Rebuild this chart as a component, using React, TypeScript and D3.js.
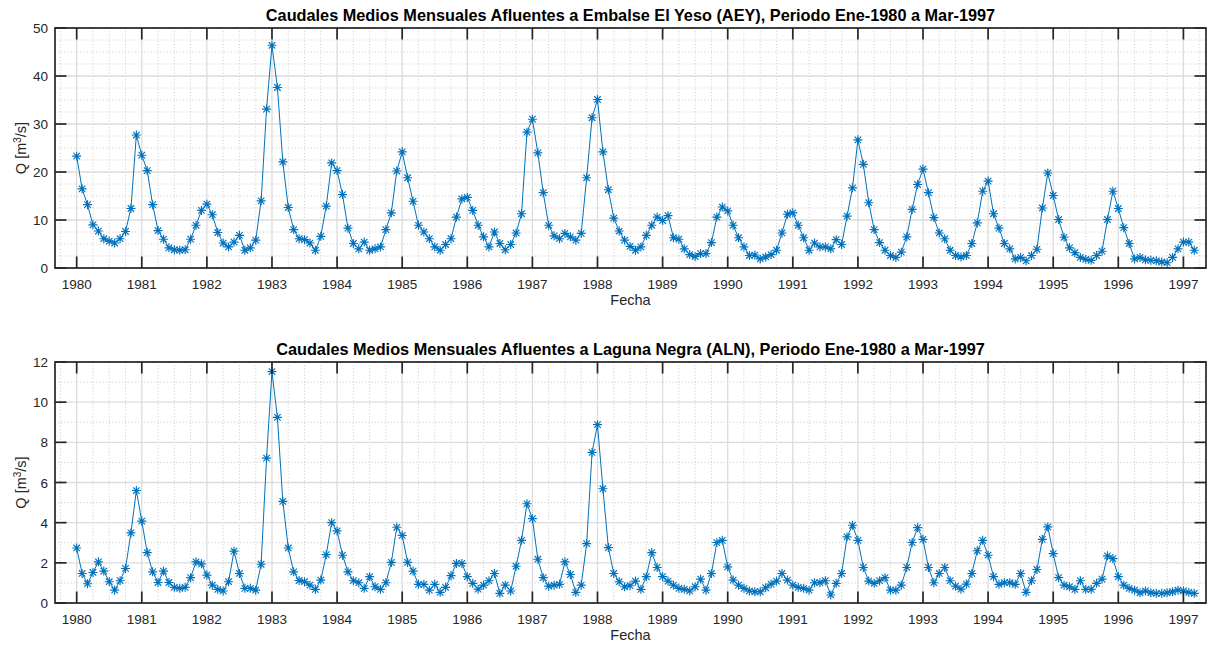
import React from "react";
import * as d3 from "d3";

// ---------- DATA ----------
const START_YEAR = 1980; // first month: Jan-1980, monthly steps
const YEAR_TICKS = [1980, 1981, 1982, 1983, 1984, 1985, 1986, 1987, 1988, 1989, 1990, 1991, 1992, 1993, 1994, 1995, 1996, 1997];
const AEY_TICKS = [0, 10, 20, 30, 40, 50];
const ALN_TICKS = [0, 2, 4, 6, 8, 10, 12];

const AEY = [
  23.3, 16.5, 13.2, 9.0, 7.7, 6.1, 5.6, 5.2, 6.1, 7.6, 12.4, 27.7,
  23.5, 20.3, 13.2, 7.8, 6.0, 4.2, 3.8, 3.7, 3.8, 6.0, 8.9, 12.0,
  13.3, 11.1, 7.4, 5.2, 4.4, 5.4, 6.8, 3.7, 4.2, 5.8, 14.0, 33.1,
  46.4, 37.6, 22.1, 12.6, 8.0, 6.1, 5.9, 5.2, 3.7, 6.6, 12.9, 21.9,
  20.3, 15.3, 8.3, 5.1, 4.0, 5.4, 3.7, 4.0, 4.4, 8.0, 11.5, 20.2,
  24.2, 18.8, 13.9, 8.9, 7.5, 6.1, 4.4, 3.7, 4.9, 6.1, 10.6, 14.4,
  14.7, 12.0, 8.9, 6.5, 4.4, 7.5, 5.1, 3.8, 4.9, 7.3, 11.3, 28.3,
  31.0, 24.0, 15.7, 8.9, 6.7, 6.1, 7.2, 6.5, 5.8, 7.2, 18.8, 31.3,
  35.1, 24.2, 16.3, 10.4, 7.7, 5.8, 4.5, 3.7, 4.4, 6.8, 8.9, 10.6,
  9.9, 10.9, 6.3, 6.0, 4.0, 2.8, 2.4, 3.0, 3.0, 5.3, 10.6, 12.7,
  11.9, 8.9, 6.3, 4.4, 2.6, 2.7, 1.9, 2.3, 2.8, 3.7, 7.3, 11.2,
  11.5, 8.9, 6.3, 3.7, 5.2, 4.4, 4.4, 4.0, 5.9, 4.9, 10.8, 16.7,
  26.7, 21.6, 13.6, 8.0, 5.3, 3.7, 2.6, 2.2, 3.3, 6.5, 12.2, 17.4,
  20.6, 15.7, 10.5, 7.3, 6.1, 3.7, 2.6, 2.3, 2.6, 5.1, 9.4, 16.0,
  18.1, 11.3, 8.3, 5.1, 4.0, 1.9, 2.2, 1.5, 2.6, 3.9, 12.5, 19.8,
  15.1, 10.1, 6.4, 4.2, 3.2, 2.2, 1.8, 1.6, 2.6, 3.5, 10.1, 16.0,
  12.4, 8.4, 5.1, 1.9, 2.2, 1.7, 1.6, 1.5, 1.25, 1.1, 2.2, 4.0,
  5.4, 5.4, 3.7,
];

const ALN = [
  2.74, 1.47, 0.96, 1.52, 2.05, 1.59, 1.06, 0.64, 1.11, 1.72, 3.49, 5.60,
  4.08, 2.51, 1.55, 1.02, 1.59, 1.02, 0.78, 0.73, 0.78, 1.26, 2.05, 1.95,
  1.39, 0.89, 0.68, 0.60, 1.06, 2.58, 1.47, 0.73, 0.73, 0.64, 1.93, 7.21,
  11.52, 9.24, 5.06, 2.74, 1.55, 1.12, 1.06, 0.89, 0.68, 1.14, 2.41, 4.0,
  3.59, 2.38, 1.55, 1.11, 1.01, 0.73, 1.31, 0.81, 0.68, 1.01, 2.02, 3.77,
  3.37, 2.02, 1.59, 0.93, 0.93, 0.64, 0.93, 0.53, 0.78, 1.36, 1.97, 1.97,
  1.31, 0.98, 0.69, 0.89, 1.11, 1.47, 0.48, 0.89, 0.60, 1.83, 3.12, 4.94,
  4.20, 2.18, 1.26, 0.84, 0.89, 0.93, 2.05, 1.42, 0.53, 0.89, 2.96, 7.50,
  8.88, 5.69, 2.76, 1.47, 1.06, 0.81, 0.86, 1.09, 0.68, 1.31, 2.51, 1.77,
  1.31, 1.09, 0.89, 0.73, 0.68, 0.60, 0.81, 1.19, 0.64, 1.47, 3.01, 3.12,
  1.80, 1.14, 0.89, 0.73, 0.60, 0.56, 0.56, 0.76, 0.94, 1.09, 1.47, 1.14,
  0.89, 0.78, 0.73, 0.64, 1.01, 1.01, 1.11, 0.40, 0.98, 1.47, 3.29, 3.87,
  3.12, 1.77, 1.09, 0.98, 1.11, 1.26, 0.64, 0.64, 0.89, 1.77, 3.01, 3.75,
  3.17, 1.77, 1.01, 1.47, 1.77, 1.11, 0.84, 0.69, 0.94, 1.47, 2.60, 3.12,
  2.38, 1.31, 0.93, 1.01, 1.01, 0.93, 1.47, 0.53, 1.11, 1.67, 3.17, 3.79,
  2.46, 1.26, 0.89, 0.81, 0.68, 1.11, 0.68, 0.68, 0.98, 1.19, 2.35, 2.21,
  1.31, 0.89, 0.73, 0.64, 0.51, 0.60, 0.51, 0.48, 0.48, 0.51, 0.56, 0.64,
  0.60, 0.53, 0.48,
];

const TITLE_AEY = "Caudales Medios Mensuales Afluentes a Embalse El Yeso (AEY), Periodo Ene-1980 a Mar-1997";
const TITLE_ALN = "Caudales Medios Mensuales Afluentes a Laguna Negra (ALN), Periodo Ene-1980 a Mar-1997";

// ---------- LAYOUT ----------
const W = 1213;
const H = 650;
const LEFT = 55;
const RIGHT = 1206;
const FONT = "'Liberation Sans', Arial, Helvetica, sans-serif";
const TXT = "#262626";
const LINE = "#0072BD";

const x = d3.scaleLinear().domain([1979.667, 1997.347]).range([LEFT, RIGHT]);

const starPath = (r: number) => {
  const d = r * 0.72;
  return `M${-r},0H${r}M0,${-r}V${r}M${-d},${-d}L${d},${d}M${-d},${d}L${d},${-d}`;
};

type PanelProps = {
  values: number[];
  top: number;
  bottom: number;
  ymax: number;
  yticks: number[];
  minorStep: number;
  title: string;
};

function Panel({ values, top, bottom, ymax, yticks, minorStep, title }: PanelProps) {
  const y = d3.scaleLinear().domain([0, ymax]).range([bottom, top]);
  const t = (i: number) => START_YEAR + i / 12;
  const line = d3
    .line<number>()
    .x((_, i) => x(t(i)))
    .y((v) => y(v));
  const minorX = d3
    .range(Math.ceil(x.domain()[0] * 4), Math.floor(x.domain()[1] * 4) + 1)
    .map((q) => q / 4)
    .filter((q) => !Number.isInteger(q));
  const minorY = d3
    .range(0, ymax + 1e-9, minorStep)
    .filter((v) => !yticks.some((tk) => Math.abs(tk - v) < 1e-9));
  const tickLen = 11.5;
  const star = starPath(4.5);
  const midX = (LEFT + RIGHT) / 2;

  return (
    <g>
      {/* minor grid */}
      {minorX.map((q) => (
        <line key={"mx" + q} x1={x(q)} x2={x(q)} y1={top} y2={bottom} stroke="#bdbdbd" strokeWidth={0.8} strokeDasharray="1 2.2" />
      ))}
      {minorY.map((v) => (
        <line key={"my" + v} x1={LEFT} x2={RIGHT} y1={y(v)} y2={y(v)} stroke="#bdbdbd" strokeWidth={0.8} strokeDasharray="1 2.2" />
      ))}
      {/* major grid */}
      {YEAR_TICKS.map((yr) => (
        <line key={"gx" + yr} x1={x(yr)} x2={x(yr)} y1={top} y2={bottom} stroke="#dcdcdc" strokeWidth={1.3} />
      ))}
      {yticks.map((v) => (
        <line key={"gy" + v} x1={LEFT} x2={RIGHT} y1={y(v)} y2={y(v)} stroke="#dcdcdc" strokeWidth={1.3} />
      ))}
      {/* data */}
      <path d={line(values) || ""} fill="none" stroke={LINE} strokeWidth={1} />
      {values.map((v, i) => (
        <path key={"m" + i} d={star} transform={`translate(${x(t(i))},${y(v)})`} fill="none" stroke={LINE} strokeWidth={1.15} />
      ))}
      {/* box */}
      <rect x={LEFT} y={top} width={RIGHT - LEFT} height={bottom - top} fill="none" stroke={TXT} strokeWidth={1.7} />
      {/* ticks */}
      {YEAR_TICKS.map((yr) => (
        <g key={"tx" + yr}>
          <line x1={x(yr)} x2={x(yr)} y1={bottom} y2={bottom - tickLen} stroke={TXT} strokeWidth={1.7} />
          <line x1={x(yr)} x2={x(yr)} y1={top} y2={top + tickLen} stroke={TXT} strokeWidth={1.7} />
          <text x={x(yr)} y={bottom + 21} textAnchor="middle" fontSize={13.5} fill={TXT} fontFamily={FONT}>
            {yr}
          </text>
        </g>
      ))}
      {yticks.map((v) => (
        <g key={"ty" + v}>
          <line x1={LEFT} x2={LEFT + tickLen} y1={y(v)} y2={y(v)} stroke={TXT} strokeWidth={1.7} />
          <line x1={RIGHT} x2={RIGHT - tickLen} y1={y(v)} y2={y(v)} stroke={TXT} strokeWidth={1.7} />
          <text x={LEFT - 7} y={y(v) + 5} textAnchor="end" fontSize={13.5} fill={TXT} fontFamily={FONT}>
            {v}
          </text>
        </g>
      ))}
      {/* labels */}
      <text x={midX} y={top - 7} textAnchor="middle" fontSize={16.3} fontWeight="bold" fill="#000" fontFamily={FONT}>
        {title}
      </text>
      <text x={midX} y={bottom + 37} textAnchor="middle" fontSize={14.5} fill={TXT} fontFamily={FONT}>
        Fecha
      </text>
      <text
        transform={`translate(26,${(top + bottom) / 2}) rotate(-90)`}
        textAnchor="middle"
        fontSize={14.5}
        fill={TXT}
        fontFamily={FONT}
      >
        Q [m
        <tspan dy={-5} fontSize={10}>
          3
        </tspan>
        <tspan dy={5}>/s]</tspan>
      </text>
    </g>
  );
}

export default function App() {
  return (
    <svg width={W} height={H} style={{ position: "absolute", left: 0, top: 0, background: "#fff" }}>
      <rect x={0} y={0} width={W} height={H} fill="#fff" />
      <Panel values={AEY} top={28} bottom={268} ymax={50} yticks={AEY_TICKS} minorStep={2.5} title={TITLE_AEY} />
      <Panel values={ALN} top={362} bottom={603} ymax={12} yticks={ALN_TICKS} minorStep={1} title={TITLE_ALN} />
    </svg>
  );
}
